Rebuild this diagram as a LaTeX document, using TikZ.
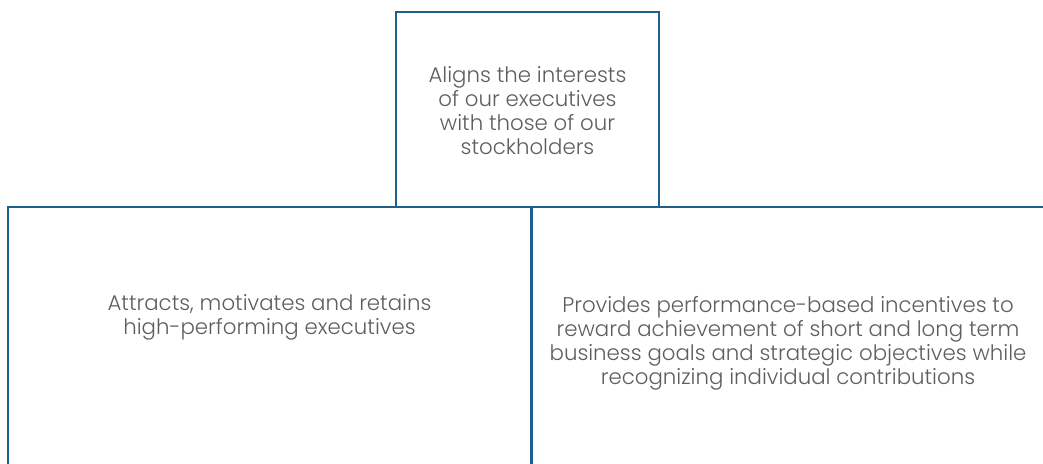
\documentclass[tikz,border=0pt]{standalone}
\usepackage{fontspec}
\setmainfont{Poppins Light}
\usepackage{tikz}
\usetikzlibrary{positioning}
\definecolor{boxblue}{HTML}{1F5F8B}
\definecolor{textgrey}{HTML}{5E5E5E}
\tikzset{
  aimbox/.style={draw=boxblue, line width=2pt, inner sep=0pt},
  aimtext/.style={align=center, text=textgrey, font=\fontsize{21.3}{24}\selectfont}
}

\begin{document}
\begin{tikzpicture}[x=1pt, y=-1pt]
    \useasboundingbox (0, 0) rectangle (1043, 463);
    \clip (0, 0) rectangle (1043, 463);
    \node[aimbox, minimum width=523pt, minimum height=293pt] (attracts) at (269.5, 353.5) {};
    \node[aimbox, minimum width=529pt, minimum height=293pt] (provides) at (795.5, 353.5) {};
    \node[aimbox, fill=white, minimum width=263pt, minimum height=195pt] (aligns) at (527.5, 109.5) {};
    \draw[boxblue, line width=2pt] (attracts.north east) -- (attracts.south east);
    \node[aimtext] (alignstext) at (527.5, 111) {Aligns the interests\\of our executives\\with those of our\\stockholders};
    \node[aimtext] (attractstext) at (269.5, 317.5) {Attracts, motivates and retains\\high-performing executives};
    \node[aimtext] (providestext) at (788, 343) {Provides performance-based incentives to\\reward achievement of short and long term\\business goals and strategic objectives while\\recognizing individual contributions};
  \end{tikzpicture}
\end{document}
